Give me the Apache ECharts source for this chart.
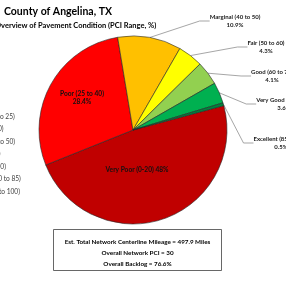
<!DOCTYPE html>
<html lang="en">
<head>
  <meta charset="UTF-8">
  <title>County of Angelina, TX - Pavement Condition</title>
  <script src="https://cdn.jsdelivr.net/npm/echarts@6/dist/echarts.min.js"></script>
  <style>
    html, body { margin: 0; padding: 0; background: #fff; }
  </style>
</head>
<body>

  <div id="main" style="width: 286px;height:286px;"></div>

  <script type="text/javascript">
    // Chart data
    const categories = ['Very Poor (0 to 25)', 'Poor (25 to 40)', 'Marginal (40 to 50)', 'Fair (50 to 60)',
                        'Good (60 to 70)', 'Very Good (70 to 85)', 'Excellent (85 to 100)'];
    const labelNames = ['Very Poor (0-20)', 'Poor (25 to 40)', 'Marginal (40 to 50)', 'Fair (50 to 60)',
                        'Good (60 to 70)', 'Very Good (70 to 85)', 'Excellent (85 to 100)'];
    const percents = [48, 28.4, 10.9, 4.3, 4.1, 3.6, 0.5];
    const summaryLines = ['Est. Total Network Centerline Mileage = 497.9 Miles',
                          'Overall Network PCI = 30',
                          'Overall Backlog = 76.6%'];

    const colors = ['#C00000', '#FF0000', '#FFC000', '#FFFF00', '#92D050', '#00B050', '#00843D'];
    // where each label sits (center x, middle y)
    const labelSpots = [[137, 170], [82, 98], [235, 21], [266, 47], [272, 76], [284, 104], [281, 143]];
    const font = 'Lato, "Noto Sans", sans-serif';

    let myChart = echarts.init(document.getElementById('main'));

    const insideLabel = { position: 'inside', fontSize: 6.6, color: '#111', fontWeight: 'bold',
                          textBorderWidth: 0, textBorderColor: 'transparent', textShadowBlur: 0 };

    const pieData = categories.map((name, i) => ({
      name: name,
      value: percents[i],
      itemStyle: { color: colors[i] },
      label: i < 2 ? Object.assign({}, insideLabel) : {},
      labelLine: i < 2 ? { show: false } : {}
    }));
    // Very Poor label is on one line
    pieData[0].label.formatter = labelNames[0] + ' ' + percents[0] + '%';

    let options = {
      animation: false,
      title: [
        { text: 'County of Angelina, TX', left: -1, top: 1,
          textStyle: { fontFamily: font, fontSize: 10.5, fontWeight: 'bold', color: '#000' } },
        { text: 'Overview of Pavement Condition (PCI Range, %)', left: -10, top: 17,
          textStyle: { fontFamily: font, fontSize: 7.5, fontWeight: 'bold', color: '#000' } }
      ],
      legend: {
        orient: 'vertical',
        left: -56,
        top: 107,
        itemWidth: 5,
        itemHeight: 5,
        itemGap: 3.5,
        icon: 'rect',
        data: categories,
        textStyle: { fontFamily: font, fontSize: 6.6, color: '#404040', lineHeight: 9 }
      },
      series: [{
        type: 'pie',
        center: [133, 130],
        radius: 94,
        startAngle: 15,
        clockwise: true,
        avoidLabelOverlap: false,
        data: pieData,
        itemStyle: { borderColor: '#262626', borderWidth: 0.6 },
        label: {
          show: true,
          position: 'outside',
          fontFamily: font,
          fontSize: 6,
          fontWeight: 'bold',
          color: '#1a1a1a',
          lineHeight: 8.5,
          align: 'center',
          formatter: p => labelNames[p.dataIndex] + '\n' + percents[p.dataIndex] + '%'
        },
        labelLine: {
          show: true,
          length: 10,
          length2: 10,
          lineStyle: { color: '#7f7f7f', width: 0.7 }
        },
        labelLayout: function (p) {
          const s = labelSpots[p.dataIndex];
          return { x: s[0], y: s[1], align: 'center', verticalAlign: 'middle' };
        }
      }],
      graphic: [
        { type: 'rect', shape: { x: 53.5, y: 229.5, width: 168, height: 41 },
          style: { fill: '#fff', stroke: '#404040', lineWidth: 0.8 } }
      ].concat(summaryLines.map((t, i) => ({
        type: 'text', x: 137.5, y: 242 + i * 11,
        style: { text: t, fontFamily: font, fontSize: 6.3, fontWeight: 'bold', fill: '#000',
                 align: 'center', verticalAlign: 'middle' }
      })))
    };

    myChart.setOption(options);
  </script>
</body>
</html>
